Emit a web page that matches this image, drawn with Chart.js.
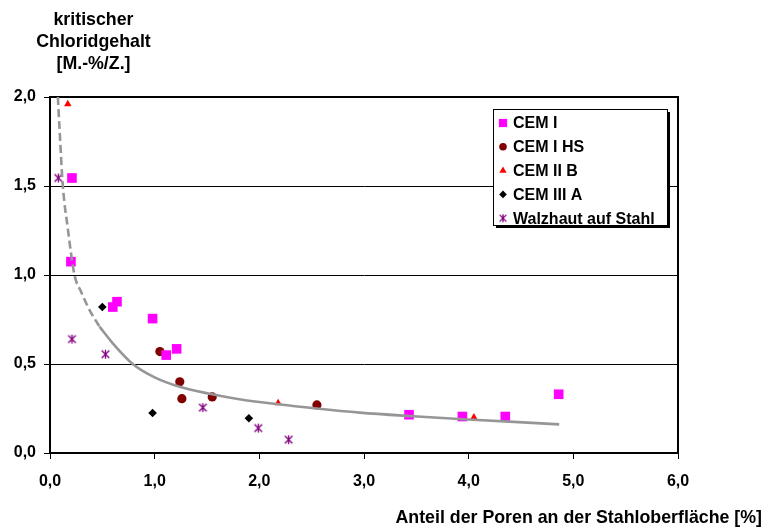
<!DOCTYPE html>
<html><head><meta charset="utf-8">
<script src="https://cdn.jsdelivr.net/npm/chart.js@4"></script>
<style>html,body{margin:0;padding:0;background:#fff}canvas{display:block}</style>
</head><body>
<canvas id="c" width="763" height="527"></canvas>
<script>
// ---- data ----
const seriesNames = ['CEM I', 'CEM I HS', 'CEM II B', 'CEM III A', 'Walzhaut auf Stahl'];
const cemI_x   = [0.21, 0.20, 0.60, 0.64, 0.98, 1.11, 1.21, 3.43, 3.94, 4.35, 4.86];
const cemI_y   = [1.545, 1.075, 0.82, 0.85, 0.755, 0.55, 0.585, 0.215, 0.205, 0.205, 0.33];
const cemIHS_x = [1.05, 1.24, 1.26, 1.55, 2.55];
const cemIHS_y = [0.57, 0.40, 0.305, 0.315, 0.27];
const cemIIB_x = [0.17, 2.18, 4.05];
const cemIIB_y = [1.96, 0.28, 0.20];
const cemIIIA_x = [0.50, 0.98, 1.90];
const cemIIIA_y = [0.82, 0.225, 0.195];
const walz_x   = [0.08, 0.21, 0.53, 1.46, 1.99, 2.28];
const walz_y   = [1.545, 0.64, 0.555, 0.255, 0.14, 0.075];
// trend curve (dashed start, solid rest)
const trendDash_x = [0.075, 0.091, 0.122, 0.17, 0.234, 0.298, 0.378, 0.473];
const trendDash_y = [2.0, 1.824, 1.506, 1.262, 1.0, 0.905, 0.803, 0.71];
const trendSolid_x = [0.473, 0.60, 0.79, 1.0, 1.238, 1.525, 1.81, 2.16, 2.545, 2.96, 3.43, 3.95, 4.865];
const trendSolid_y = [0.71, 0.616, 0.5, 0.425, 0.372, 0.333, 0.302, 0.275, 0.25, 0.227, 0.208, 0.19, 0.161];
const xTickLabels = ['0,0', '1,0', '2,0', '3,0', '4,0', '5,0', '6,0'];
const yTickLabels = ['0,0', '0,5', '1,0', '1,5', '2,0'];
const yTitleLines = ['kritischer', 'Chloridgehalt', '[M.-%/Z.]'];
const xTitle = 'Anteil der Poren an der Stahloberfläche [%]';

// ---- styling ----
const FONT = "'Liberation Sans', Arial, sans-serif";
function pts(xs, ys) { return xs.map((x, i) => ({ x: x, y: ys[i] })); }
function makeStar(color, s) {
  const c = document.createElement('canvas'); c.width = s; c.height = s;
  const g = c.getContext('2d'); g.strokeStyle = color; g.lineWidth = 1.3;
  const m = s / 2, r = s / 2 - 1;
  g.beginPath();
  g.moveTo(m - r * 0.85, m - r * 0.85); g.lineTo(m + r * 0.85, m + r * 0.85);
  g.moveTo(m + r * 0.85, m - r * 0.85); g.lineTo(m - r * 0.85, m + r * 0.85);
  g.moveTo(m, m - r); g.lineTo(m, m + r);
  g.stroke();
  return c;
}
const starImg = makeStar('#800080', 11);
const starLegend = makeStar('#800080', 10);

const styles = [
  { color: '#FF00FF', pointStyle: 'rect', radius: 6.8, legendRadius: 5.8 },
  { color: '#800000', pointStyle: 'circle', radius: 4.6, legendRadius: 3.8 },
  { color: '#FF0000', pointStyle: 'triangle', radius: 4.3, legendRadius: 4.2 },
  { color: '#000000', pointStyle: 'rectRot', radius: 4.3, legendRadius: 3.8 },
  { color: '#800080', pointStyle: starImg, radius: 5, legendImg: starLegend }
];
const seriesData = [pts(cemI_x, cemI_y), pts(cemIHS_x, cemIHS_y), pts(cemIIB_x, cemIIB_y), pts(cemIIIA_x, cemIIIA_y), pts(walz_x, walz_y)];

const datasets = seriesData.map((d, i) => ({
  label: seriesNames[i], data: d, showLine: false, order: 1,
  pointStyle: styles[i].pointStyle, pointRadius: styles[i].radius,
  backgroundColor: styles[i].color, borderColor: styles[i].color, borderWidth: 0
}));
datasets.push({
  label: 'trendDash', data: pts(trendDash_x, trendDash_y), showLine: true, order: 0,
  borderColor: '#969696', borderWidth: 2.6, borderDash: [8, 4], pointRadius: 0,
  cubicInterpolationMode: 'monotone', fill: false
});
datasets.push({
  label: 'trendSolid', data: pts(trendSolid_x, trendSolid_y), showLine: true, order: 0,
  borderColor: '#969696', borderWidth: 2.6, pointRadius: 0,
  cubicInterpolationMode: 'monotone', fill: false
});

const decor = {
  id: 'decor',
  beforeDatasetsDraw(chart) {
    const { ctx, chartArea: a } = chart;
    ctx.save();
    ctx.strokeStyle = '#000'; ctx.lineWidth = 2;
    ctx.strokeRect(a.left, a.top, a.right - a.left, a.bottom - a.top);
    ctx.restore();
  },
  afterDraw(chart) {
    const ctx = chart.ctx;
    ctx.save();
    // titles
    ctx.fillStyle = '#000';
    ctx.font = 'bold 17.8px ' + FONT;
    ctx.textAlign = 'center'; ctx.textBaseline = 'alphabetic';
    const base = [25, 47, 69];
    yTitleLines.forEach((t, i) => ctx.fillText(t, 93.5, base[i]));
    ctx.textAlign = 'right';
    ctx.fillText(xTitle, 762, 523);
    // legend
    const L = 493, T = 109, W = 174, H = 116;
    ctx.fillStyle = '#000';
    ctx.fillRect(L + 3, T + 3, W, H);
    ctx.fillStyle = '#fff';
    ctx.fillRect(L, T, W, H);
    ctx.strokeStyle = '#000'; ctx.lineWidth = 1;
    ctx.strokeRect(L + 0.5, T + 0.5, W, H);
    ctx.font = 'bold 16px ' + FONT;
    ctx.textAlign = 'left'; ctx.textBaseline = 'middle';
    seriesNames.forEach((name, i) => {
      const y = 123 + i * 23.8;
      const s = styles[i];
      if (s.legendImg) {
        ctx.drawImage(s.legendImg, 503 - 5, y - 5);
      } else {
        ctx.fillStyle = s.color; ctx.strokeStyle = s.color;
        Chart.helpers.drawPoint(ctx, { pointStyle: s.pointStyle, rotation: 0, radius: s.legendRadius, borderWidth: 0 }, 503, y);
      }
      ctx.fillStyle = '#000';
      ctx.fillText(name, 513, y + 1);
    });
    ctx.restore();
  }
};

new Chart(document.getElementById('c'), {
  type: 'scatter',
  data: { datasets: datasets },
  options: {
    responsive: false, animation: false, devicePixelRatio: 1,
    layout: { padding: { top: 97, right: 85, left: 0, bottom: 0 } },
    plugins: { legend: { display: false }, tooltip: { enabled: false } },
    events: [],
    scales: {
      x: {
        type: 'linear', min: 0, max: 6,
        afterFit: s => { s.height = 74; },
        ticks: { stepSize: 1, color: '#000', padding: 13, font: { family: FONT, size: 16, weight: 'bold' },
          callback: v => xTickLabels[Math.round(v)] },
        grid: { drawOnChartArea: false, drawTicks: true, tickLength: 6, tickColor: '#000', color: '#000' },
        border: { display: true, color: '#000', width: 2 }
      },
      y: {
        type: 'linear', min: 0, max: 2,
        afterFit: s => { s.width = 50; },
        ticks: { stepSize: 0.5, color: '#000', padding: 8, font: { family: FONT, size: 16, weight: 'bold' },
          callback: v => yTickLabels[Math.round(v * 2)] },
        grid: { color: '#000', lineWidth: 1, drawTicks: true, tickLength: 6, tickColor: '#000' },
        border: { display: true, color: '#000', width: 2 }
      }
    }
  },
  plugins: [decor]
});
</script>
</body></html>
